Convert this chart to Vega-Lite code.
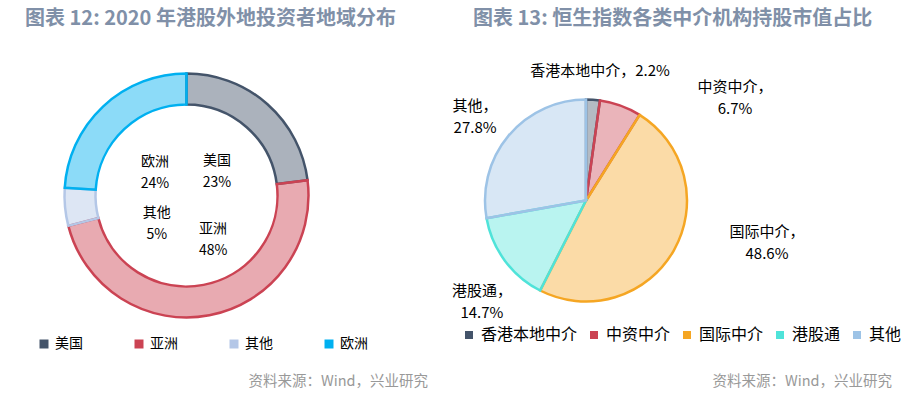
{
  "$schema": "https://vega.github.io/schema/vega-lite/v6.json",
  "background": "white",
  "padding": {"left": 0, "top": 9, "right": 0, "bottom": 0},
  "config": {
    "view": {"stroke": null},
    "font": "Noto Sans CJK SC",
    "text": {"font": "Noto Sans CJK SC", "fontSize": 14, "fill": "#000000", "align": "center", "baseline": "middle", "lineBreak": "\n", "lineHeight": 22}
  },
  "datasets": {
    "left": [
      {"i": 1, "k": "美国", "v": 23, "lab": "美国\n23%"},
      {"i": 2, "k": "亚洲", "v": 48, "lab": "亚洲\n48%"},
      {"i": 3, "k": "其他", "v": 5, "lab": "其他\n5%"},
      {"i": 4, "k": "欧洲", "v": 24, "lab": "欧洲\n24%"}
    ],
    "right": [
      {"i": 1, "k": "香港本地中介", "v": 2.2, "lab": "香港本地中介，2.2%"},
      {"i": 2, "k": "中资中介", "v": 6.7, "lab": "中资中介，\n6.7%"},
      {"i": 3, "k": "国际中介", "v": 48.6, "lab": "国际中介，\n48.6%"},
      {"i": 4, "k": "港股通", "v": 14.7, "lab": "港股通，\n14.7%"},
      {"i": 5, "k": "其他", "v": 27.8, "lab": "其他，\n27.8%"}
    ],
    "source": [
      {"src": "资料来源：Wind，兴业研究"}
    ]
  },
  "spacing": 82,
  "bounds": "flush",
  "resolve": {"scale": {"color": "independent", "stroke": "independent", "theta": "independent"}, "legend": {"color": "independent"}},
  "hconcat": [
    {
      "width": 373,
      "height": 317,
      "title": {"text": "图表 12: 2020 年港股外地投资者地域分布", "anchor": "start", "frame": "group", "dx": 25, "offset": 8, "fontSize": 20, "fontWeight": "bold", "color": "#8090A8", "font": "Noto Sans CJK SC"},
      "layer": [
        {
          "data": {"name": "left"},
          "mark": {"type": "arc", "outerRadius": 122, "innerRadius": 91, "fillOpacity": 0.45, "strokeWidth": 2.5},
          "encoding": {
            "theta": {"field": "v", "type": "quantitative", "stack": true},
            "order": {"field": "i", "type": "quantitative"},
            "color": {
              "field": "k", "type": "nominal",
              "scale": {"domain": ["美国", "亚洲", "其他", "欧洲"], "range": ["#44546A", "#CB4353", "#B4C7E7", "#00B0F0"]},
              "legend": {"orient": "none", "legendX": 37, "legendY": 300, "direction": "horizontal", "columns": 4, "title": null, "symbolType": "square", "symbolSize": 81, "symbolStrokeWidth": 0, "symbolOpacity": 1, "labelFontSize": 14, "labelColor": "#000000", "labelFont": "Noto Sans CJK SC", "labelOffset": 4, "columnPadding": 49, "padding": 0}
            },
            "stroke": {
              "field": "k", "type": "nominal",
              "scale": {"domain": ["美国", "亚洲", "其他", "欧洲"], "range": ["#44546A", "#CB4353", "#B4C7E7", "#00B0F0"]},
              "legend": null
            }
          }
        },
        {
          "data": {"name": "left"},
          "mark": {"type": "text", "radius": 46},
          "encoding": {
            "theta": {"field": "v", "type": "quantitative", "stack": true},
            "order": {"field": "i", "type": "quantitative"},
            "detail": {"field": "k", "type": "nominal"},
            "text": {"condition": {"test": "datum.k === '美国' || datum.k === '欧洲'", "field": "lab", "type": "nominal"}, "value": ""}
          }
        },
        {
          "data": {"name": "left"},
          "mark": {"type": "text", "radius": 46, "dx": 18, "dy": -12},
          "encoding": {
            "theta": {"field": "v", "type": "quantitative", "stack": true},
            "order": {"field": "i", "type": "quantitative"},
            "detail": {"field": "k", "type": "nominal"},
            "text": {"condition": {"test": "datum.k === '亚洲'", "field": "lab", "type": "nominal"}, "value": ""}
          }
        },
        {
          "data": {"name": "left"},
          "mark": {"type": "text", "radius": 46, "dx": 16, "dy": 13},
          "encoding": {
            "theta": {"field": "v", "type": "quantitative", "stack": true},
            "order": {"field": "i", "type": "quantitative"},
            "detail": {"field": "k", "type": "nominal"},
            "text": {"condition": {"test": "datum.k === '其他'", "field": "lab", "type": "nominal"}, "value": ""}
          }
        },
        {
          "data": {"name": "source"},
          "mark": {"type": "text", "align": "right", "baseline": "middle", "dx": 55, "dy": 28, "fontSize": 14.5, "fill": "#999999"},
          "encoding": {
            "x": {"value": "width"},
            "y": {"value": "height"},
            "text": {"field": "src", "type": "nominal"}
          }
        }
      ]
    },
    {
      "width": 262,
      "height": 327,
      "title": {"text": "图表 13: 恒生指数各类中介机构持股市值占比", "anchor": "start", "frame": "group", "dx": 18, "offset": 8, "fontSize": 20, "fontWeight": "bold", "color": "#8090A8", "font": "Noto Sans CJK SC"},
      "layer": [
        {
          "data": {"name": "right"},
          "mark": {"type": "arc", "outerRadius": 101, "fillOpacity": 0.4, "strokeWidth": 2.5},
          "encoding": {
            "theta": {"field": "v", "type": "quantitative", "stack": true},
            "order": {"field": "i", "type": "quantitative"},
            "color": {
              "field": "k", "type": "nominal",
              "scale": {"domain": ["香港本地中介", "中资中介", "国际中介", "港股通", "其他"], "range": ["#44546A", "#CB4353", "#F5A623", "#4FE3D9", "#9DC3E6"]},
              "legend": {"orient": "none", "legendX": 6, "legendY": 290, "direction": "horizontal", "columns": 5, "title": null, "symbolType": "square", "symbolSize": 64, "symbolStrokeWidth": 0, "symbolOpacity": 1, "labelFontSize": 16, "labelColor": "#000000", "labelFont": "Noto Sans CJK SC", "labelOffset": 4, "columnPadding": 8, "padding": 0}
            },
            "stroke": {
              "field": "k", "type": "nominal",
              "scale": {"domain": ["香港本地中介", "中资中介", "国际中介", "港股通", "其他"], "range": ["#44546A", "#CB4353", "#F5A623", "#4FE3D9", "#9DC3E6"]},
              "legend": null
            }
          }
        },
        {
          "data": {"name": "right"},
          "mark": {"type": "text", "radius": 130, "dx": 5, "fontSize": 15},
          "encoding": {
            "theta": {"field": "v", "type": "quantitative", "stack": true},
            "order": {"field": "i", "type": "quantitative"},
            "detail": {"field": "k", "type": "nominal"},
            "text": {"condition": {"test": "datum.k === '香港本地中介'", "field": "lab", "type": "nominal"}, "value": ""}
          }
        },
        {
          "data": {"name": "right"},
          "mark": {"type": "text", "radius": 158, "dx": 95, "dy": 35, "fontSize": 15},
          "encoding": {
            "theta": {"field": "v", "type": "quantitative", "stack": true},
            "order": {"field": "i", "type": "quantitative"},
            "detail": {"field": "k", "type": "nominal"},
            "text": {"condition": {"test": "datum.k === '中资中介'", "field": "lab", "type": "nominal"}, "value": ""}
          }
        },
        {
          "data": {"name": "right"},
          "mark": {"type": "text", "radius": 100, "dx": 94, "dy": -18, "fontSize": 15},
          "encoding": {
            "theta": {"field": "v", "type": "quantitative", "stack": true},
            "order": {"field": "i", "type": "quantitative"},
            "detail": {"field": "k", "type": "nominal"},
            "text": {"condition": {"test": "datum.k === '国际中介'", "field": "lab", "type": "nominal"}, "value": ""}
          }
        },
        {
          "data": {"name": "right"},
          "mark": {"type": "text", "radius": 137, "dx": 6, "dy": 9, "fontSize": 15},
          "encoding": {
            "theta": {"field": "v", "type": "quantitative", "stack": true},
            "order": {"field": "i", "type": "quantitative"},
            "detail": {"field": "k", "type": "nominal"},
            "text": {"condition": {"test": "datum.k === '港股通'", "field": "lab", "type": "nominal"}, "value": ""}
          }
        },
        {
          "data": {"name": "right"},
          "mark": {"type": "text", "radius": 146, "dx": 1, "dy": -1, "fontSize": 15},
          "encoding": {
            "theta": {"field": "v", "type": "quantitative", "stack": true},
            "order": {"field": "i", "type": "quantitative"},
            "detail": {"field": "k", "type": "nominal"},
            "text": {"condition": {"test": "datum.k === '其他'", "field": "lab", "type": "nominal"}, "value": ""}
          }
        },
        {
          "data": {"name": "source"},
          "mark": {"type": "text", "align": "right", "baseline": "middle", "dx": 175, "dy": 18, "fontSize": 14.5, "fill": "#999999"},
          "encoding": {
            "x": {"value": "width"},
            "y": {"value": "height"},
            "text": {"field": "src", "type": "nominal"}
          }
        }
      ]
    }
  ]
}
